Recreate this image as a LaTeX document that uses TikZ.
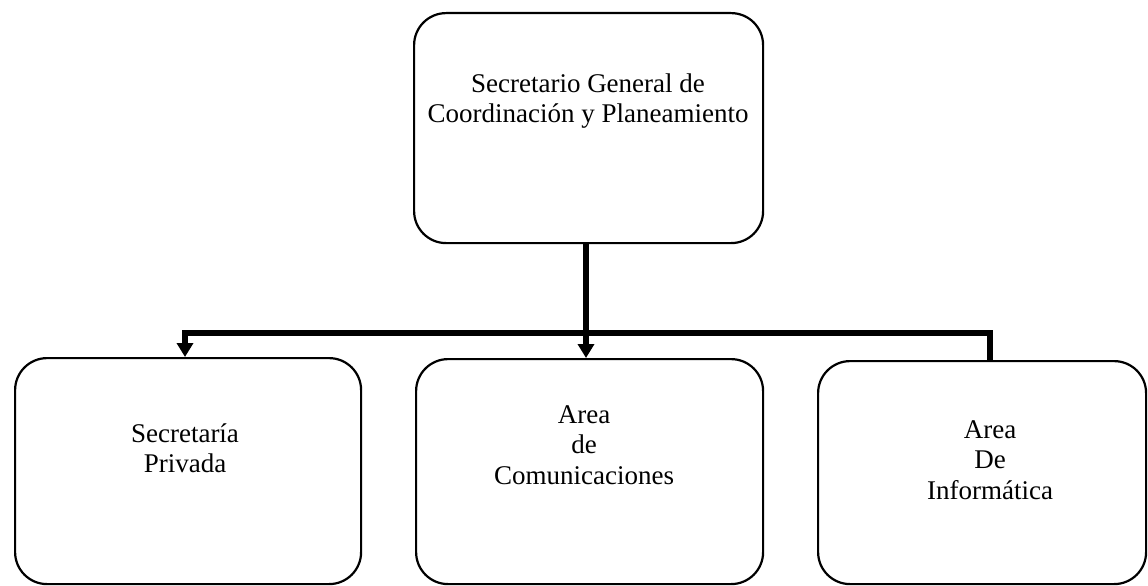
\documentclass[tikz,border=0pt]{standalone}
\usepackage{fontspec}
\setmainfont{Liberation Serif}
\usetikzlibrary{arrows.meta}
\begin{document}
\begin{tikzpicture}[x=1pt,y=-1pt,
  box/.style={draw, line width=2.2pt, rounded corners=32pt, anchor=north west, inner sep=0pt},
  lbl/.style={align=center, inner sep=0pt, font=\fontsize{27}{30.5}\selectfont},
  conn/.style={line width=5.5pt},
  arr/.style={line width=5.5pt, -{Triangle[length=14pt, width=16pt]}}
]
\useasboundingbox (0,0) rectangle (1148,586);
% boxes
\node[box, minimum width=349pt, minimum height=230pt] (top) at (413,12) {};
\node[box, minimum width=346pt, minimum height=226pt] (left) at (14,357) {};
\node[box, minimum width=347pt, minimum height=225pt] (mid) at (415,358) {};
\node[box, minimum width=328pt, minimum height=223pt] (right) at (817,360) {};
% labels
\node[lbl] (toptext) at (588,101) {Secretario General de\\Coordinación y Planeamiento};
\node[lbl] (lefttext) at (185,448) {Secretaría\\Privada};
\node[lbl] (midtext) at (584,445) {Area\\de\\Comunicaciones};
\node[lbl] (righttext) at (990,460) {Area\\De\\Informática};
% connectors
\coordinate (j) at (586,333);
\coordinate (jl) at (185,333);
\coordinate (jr) at (990,333);
\draw[conn] (top.south -| j) -- (j);
\draw[conn] ([xshift=-2.75pt]jl) -- ([xshift=2.75pt]jr);
\draw[arr] (jl) -- (jl |- left.north);
\draw[arr] (j) -- (j |- mid.north);
\draw[conn] (jr) -- (jr |- right.north);
\end{tikzpicture}
\end{document}
